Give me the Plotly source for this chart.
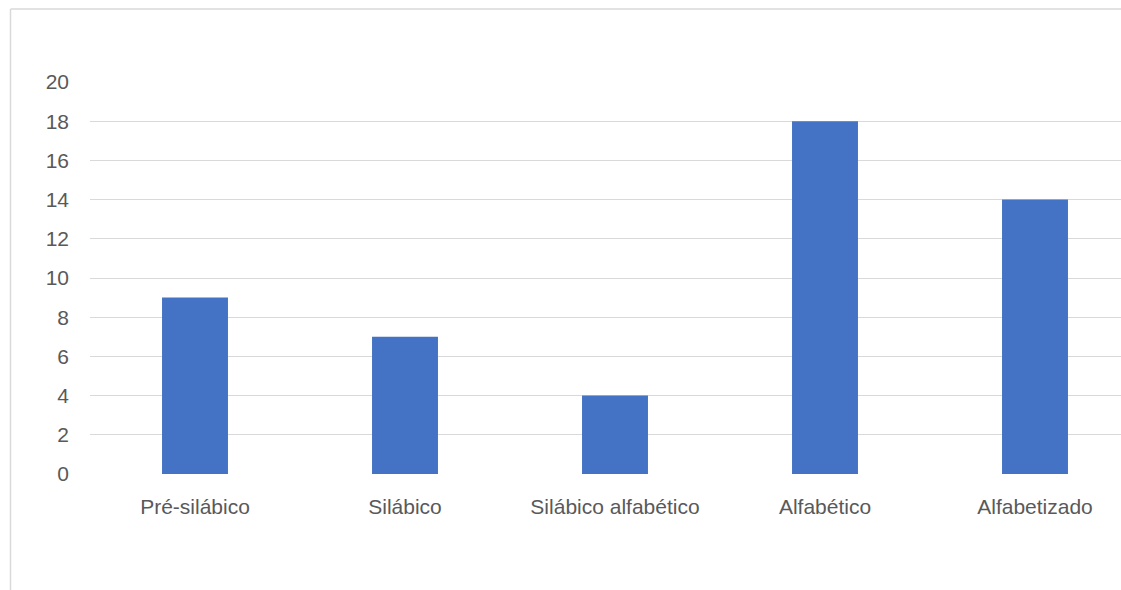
import plotly.graph_objects as go

# Nivel de escrita - quantidade de alunos
categorias = ["Pré-silábico", "Silábico", "Silábico alfabético", "Alfabético", "Alfabetizado"]
valores = [9, 7, 4, 18, 14]
y_ticks = list(range(0, 21, 2))

W, H = 1121, 590
L, R, T, B = 90, 0, 82, 116
plot_w = W - L - R
plot_h = H - T - B

fig = go.Figure(
    go.Bar(x=categorias, y=valores, marker_color="#4472C4", marker_line_width=0)
)

# frame of the chart area (only top and left edges visible in the crop)
frame = dict(color="#d9d9d9", width=1.5)
top_y = 1 + (T - 9) / plot_h
left_x = (10.5 - L) / plot_w
fig.add_shape(type="line", xref="paper", yref="paper",
              x0=left_x, x1=1.05, y0=top_y, y1=top_y, line=frame)
fig.add_shape(type="line", xref="paper", yref="paper",
              x0=left_x, x1=left_x, y0=-0.5, y1=top_y, line=frame)

fig.update_layout(
    width=W, height=H,
    margin=dict(l=L, r=R, t=T, b=B),
    paper_bgcolor="white", plot_bgcolor="white",
    bargap=0.686,
    showlegend=False,
    font=dict(family="Liberation Sans, Arial, sans-serif", size=21, color="#595959"),
)
fig.update_xaxes(
    range=[-0.5, 4.5 - 19 / 210],
    showgrid=False, showline=False, zeroline=False,
    ticks="", ticklabelstandoff=18,
)
fig.update_yaxes(
    range=[0, 20], tickvals=y_ticks,
    showgrid=True, gridcolor="#d9d9d9", gridwidth=1.3,
    zeroline=False, showline=False,
    ticks="", ticklabelstandoff=20,
)

# drop the default body margin so the figure fills the window exactly
fig.write_html(
    "out.html",
    config={"displayModeBar": False},
    post_script="document.body.style.margin='0';document.body.style.overflow='hidden';",
)
